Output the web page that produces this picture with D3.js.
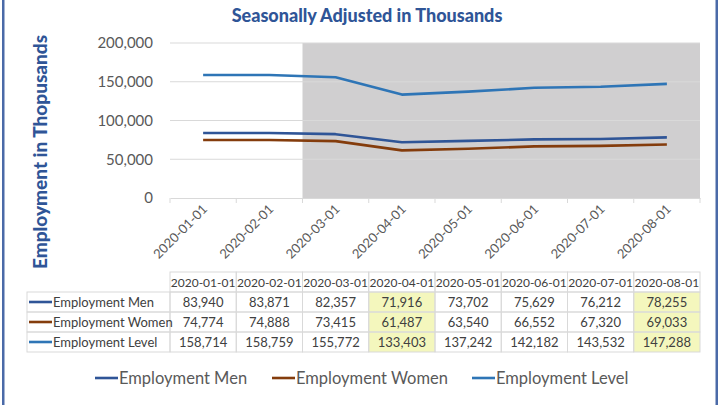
<!DOCTYPE html>
<html><head><meta charset="utf-8">
<script src="https://cdn.jsdelivr.net/npm/d3@7"></script>
<style>
html,body{margin:0;padding:0;background:#fff;}
svg{display:block;font-family:Lato,"Open Sans",sans-serif;}
</style></head>
<body><svg id="c" width="720" height="405"></svg>
<script>
const categories = ["2020-01-01","2020-02-01","2020-03-01","2020-04-01","2020-05-01","2020-06-01","2020-07-01","2020-08-01"];
const seriesNames = ["Employment Men","Employment Women","Employment Level"];
const men = [83940, 83871, 82357, 71916, 73702, 75629, 76212, 78255];
const women = [74774, 74888, 73415, 61487, 63540, 66552, 67320, 69033];
const level = [158714, 158759, 155772, 133403, 137242, 142182, 143532, 147288];
const yTicks = [0, 50000, 100000, 150000, 200000];
const shadedFrom = "2020-03-01";
const highlighted = ["2020-04-01","2020-08-01"];
const colors = ["#2f5597", "#843c0c", "#2e75b6"];

const series = [men, women, level];
const svg = d3.select("#c");
const fmt = d3.format(",");

// frame lines
svg.append("rect").attr("x",2).attr("y",0).attr("width",2.5).attr("height",405).attr("fill","#4a6aa8");
svg.append("rect").attr("x",715.5).attr("y",0).attr("width",2.5).attr("height",405).attr("fill","#4a6aa8");

const x = d3.scaleBand().domain(categories).range([170,700]).padding(0);
const y = d3.scaleLinear().domain([0,200000]).range([198,43]);
const cx = d => x(d) + x.bandwidth()/2;

// title
svg.append("text").attr("x",367).attr("y",22).attr("text-anchor","middle")
  .attr("font-size",18).attr("font-weight",900).attr("fill","#2f5597")
  .text("Seasonally Adjusted in Thousands");

// shaded region
svg.append("rect").attr("x",x(shadedFrom)).attr("y",y(200000))
  .attr("width",700 - x(shadedFrom)).attr("height",y(0)-y(200000)).attr("fill","#d0cfd0");

// grid
svg.append("g").selectAll("line").data(yTicks.filter(t=>t>0)).join("line")
  .attr("x1",170).attr("x2",700).attr("y1",d=>y(d)).attr("y2",d=>y(d))
  .attr("stroke","#d9d9d9").attr("stroke-width",1);

// y axis
const yAxis = svg.append("g").attr("transform","translate(170,0)")
  .call(d3.axisLeft(y).tickValues(yTicks).tickFormat(d=>fmt(d)).tickSize(0).tickPadding(17));
yAxis.select(".domain").remove();
yAxis.selectAll("text").attr("font-size",15).attr("fill","#595959").attr("font-family","Lato,sans-serif");

// x axis
const xAxis = svg.append("g").attr("transform","translate(0,198)")
  .call(d3.axisBottom(x).tickSize(0).tickPadding(0));
xAxis.select(".domain").attr("stroke","#d9d9d9");
xAxis.selectAll(".tick line").remove();
xAxis.selectAll(".tick text")
  .attr("font-size",13).attr("fill","#595959").attr("font-family","Lato,sans-serif")
  .attr("text-anchor","end").attr("dy","0").attr("y",0)
  .attr("transform","translate(5,12) rotate(-45)");
// boundary ticks
const bounds = categories.map(c=>x(c)).concat([700]);
svg.append("g").selectAll("line").data(bounds).join("line")
  .attr("x1",d=>d).attr("x2",d=>d).attr("y1",198).attr("y2",203)
  .attr("stroke","#d9d9d9");

// lines
const line = d3.line().x((d,i)=>cx(categories[i])).y(d=>y(d));
series.forEach((s,k)=>{
  svg.append("path").datum(s).attr("d",line).attr("fill","none")
    .attr("stroke",colors[k]).attr("stroke-width",2.6).attr("stroke-linejoin","round");
});

// data table
const tTop = 272, rowH = 20, labelLeft = 27;
const tbl = svg.append("g");
// highlight cells
highlighted.forEach(c=>{
  tbl.append("rect").attr("x",x(c)).attr("y",tTop+rowH).attr("width",x.bandwidth())
    .attr("height",rowH*3).attr("fill","#f4f7bd");
});
// header cells borders
tbl.append("g").selectAll("rect").data(categories).join("rect")
  .attr("x",d=>x(d)).attr("y",tTop).attr("width",x.bandwidth()).attr("height",rowH)
  .attr("fill","none").attr("stroke","#d9d9d9");
tbl.append("g").selectAll("text").data(categories).join("text")
  .attr("x",d=>cx(d)).attr("y",tTop+rowH/2+4.5).attr("text-anchor","middle")
  .attr("font-size",12).attr("fill","#404040").text(d=>d);
series.forEach((s,k)=>{
  const ry = tTop + rowH*(k+1);
  tbl.append("rect").attr("x",labelLeft).attr("y",ry).attr("width",170-labelLeft).attr("height",rowH)
    .attr("fill","none").attr("stroke","#d9d9d9");
  tbl.append("g").selectAll("rect").data(categories).join("rect")
    .attr("x",d=>x(d)).attr("y",ry).attr("width",x.bandwidth()).attr("height",rowH)
    .attr("fill","none").attr("stroke","#d9d9d9");
  tbl.append("line").attr("x1",29).attr("x2",52).attr("y1",ry+rowH/2).attr("y2",ry+rowH/2)
    .attr("stroke",colors[k]).attr("stroke-width",2.6);
  tbl.append("text").attr("x",53).attr("y",ry+rowH/2+4.5).attr("font-size",13)
    .attr("fill","#404040").text(seriesNames[k]);
  tbl.append("g").selectAll("text").data(s).join("text")
    .attr("x",(d,i)=>cx(categories[i])).attr("y",ry+rowH/2+4.5).attr("text-anchor","middle")
    .attr("font-size",13).attr("fill","#404040").text(d=>fmt(d));
});

// y axis title
svg.append("text").attr("transform","translate(47,152) rotate(-90)").attr("text-anchor","middle")
  .attr("font-size",19).attr("font-weight",900).attr("fill","#2f5597")
  .text("Employment in Thopusands");

// bottom legend
const legX = [95, 272, 472];
const lg = svg.append("g");
seriesNames.forEach((n,k)=>{
  lg.append("line").attr("x1",legX[k]).attr("x2",legX[k]+23).attr("y1",378).attr("y2",378)
    .attr("stroke",colors[k]).attr("stroke-width",2.6);
  lg.append("text").attr("x",legX[k]+24).attr("y",384).attr("font-size",16.5)
    .attr("fill","#595959").text(n);
});
</script></body></html>
